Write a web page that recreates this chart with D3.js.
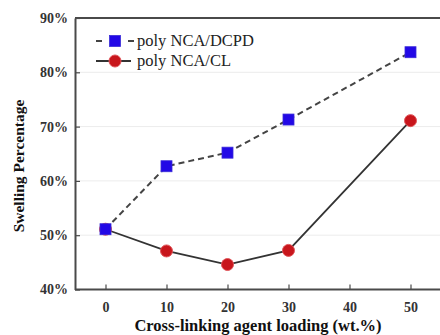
<!DOCTYPE html>
<html>
<head>
<meta charset="utf-8">
<script src="https://cdn.jsdelivr.net/npm/d3@7/dist/d3.min.js"></script>
<style>
  html, body { margin: 0; padding: 0; background: #fff; }
  svg { display: block; }
</style>
</head>
<body>
<svg id="chart" width="440" height="335"></svg>
<script>
// Cross-linking agent loading (wt.%)
const loadings = [0, 10, 20, 30, 50];
// Swelling percentage (%)
const dcpdValues = [51.1, 62.7, 65.2, 71.3, 83.7];
const clValues = [51.1, 47.1, 44.6, 47.2, 71.1];
const seriesNames = ["poly NCA/DCPD", "poly NCA/CL"];
const xTicks = [0, 10, 20, 30, 40, 50];
const yTicks = [40, 50, 60, 70, 80, 90];

const svg = d3.select("#chart");
const margin = { left: 75, top: 18, right: 441, bottom: 289.5 };

const x = d3.scaleLinear().domain([-5, 55]).range([margin.left, margin.right]);
const y = d3.scaleLinear().domain([40, 90]).range([margin.bottom, margin.top]);

const serif = "'Liberation Serif', 'Times New Roman', serif";
const axisColor = "#4a4a4a";

// light horizontal grid
svg.append("g")
  .selectAll("line")
  .data(yTicks.slice(1, -1))
  .join("line")
  .attr("x1", margin.left).attr("x2", 440)
  .attr("y1", d => y(d)).attr("y2", d => y(d))
  .attr("stroke", "#ececec").attr("stroke-width", 1);

// frame top edge
svg.append("line")
  .attr("x1", margin.left).attr("x2", 440)
  .attr("y1", margin.top).attr("y2", margin.top)
  .attr("stroke", axisColor).attr("stroke-width", 2);

// x axis with inward ticks
const xAxis = svg.append("g")
  .attr("transform", `translate(0,${margin.bottom})`)
  .call(d3.axisBottom(x).tickValues(xTicks).tickSizeInner(-5).tickSizeOuter(0).tickPadding(13));
xAxis.select(".domain").attr("stroke", axisColor).attr("stroke-width", 2)
  .attr("d", `M${margin.left},0H440`);
xAxis.selectAll(".tick line").attr("stroke", axisColor).attr("stroke-width", 1.2);
xAxis.selectAll(".tick text")
  .attr("font-family", serif).attr("font-weight", "bold").attr("font-size", 14)
  .attr("fill", "#333");

// y axis with inward ticks
const yAxis = svg.append("g")
  .attr("transform", `translate(${margin.left},0)`)
  .call(d3.axisLeft(y).tickValues(yTicks).tickFormat(d => d + "%")
    .tickSizeInner(-5).tickSizeOuter(0).tickPadding(7));
yAxis.select(".domain").attr("stroke", axisColor).attr("stroke-width", 2);
yAxis.selectAll(".tick line").attr("stroke", axisColor).attr("stroke-width", 1.2);
yAxis.selectAll(".tick text")
  .attr("font-family", serif).attr("font-weight", "bold").attr("font-size", 14)
  .attr("fill", "#333");

// axis titles
svg.append("text")
  .attr("x", 258).attr("y", 331)
  .attr("text-anchor", "middle")
  .attr("font-family", serif).attr("font-weight", "bold").attr("font-size", 16.5)
  .attr("fill", "#111")
  .text("Cross-linking agent loading (wt.%)");

svg.append("text")
  .attr("transform", "translate(24,166) rotate(-90)")
  .attr("text-anchor", "middle")
  .attr("font-family", serif).attr("font-weight", "bold").attr("font-size", 15.5)
  .attr("fill", "#111")
  .text("Swelling Percentage");

const line = d3.line().x(d => x(d[0])).y(d => y(d[1]));
const dcpd = loadings.map((l, i) => [l, dcpdValues[i]]);
const cl = loadings.map((l, i) => [l, clValues[i]]);

// series lines
svg.append("path").datum(dcpd).attr("d", line)
  .attr("fill", "none").attr("stroke", "#444").attr("stroke-width", 2)
  .attr("stroke-dasharray", "6,4");
svg.append("path").datum(cl).attr("d", line)
  .attr("fill", "none").attr("stroke", "#333").attr("stroke-width", 1.8);

// markers
const sq = 11;
function drawSquare(g, cx, cy) {
  g.append("rect")
    .attr("x", cx - sq / 2).attr("y", cy - sq / 2)
    .attr("width", sq).attr("height", sq)
    .attr("fill", "#2208e6").attr("stroke", "#3a2cd8").attr("stroke-width", 0.8);
}
function drawCircle(g, cx, cy) {
  g.append("circle")
    .attr("cx", cx).attr("cy", cy).attr("r", 6)
    .attr("fill", "#c8161c").attr("stroke", "#e0555a").attr("stroke-width", 1);
}
const marks = svg.append("g");
cl.forEach(d => drawCircle(marks, x(d[0]), y(d[1])));
dcpd.forEach(d => drawSquare(marks, x(d[0]), y(d[1])));

// legend
const legend = svg.append("g");
const legRows = [41, 61];
legend.append("line")
  .attr("x1", 96).attr("x2", 134).attr("y1", legRows[0]).attr("y2", legRows[0])
  .attr("stroke", "#444").attr("stroke-width", 2).attr("stroke-dasharray", "6,26");
legend.append("line")
  .attr("x1", 96).attr("x2", 131).attr("y1", legRows[1]).attr("y2", legRows[1])
  .attr("stroke", "#333").attr("stroke-width", 1.8);
drawSquare(legend, 115, legRows[0]);
drawCircle(legend, 115, legRows[1]);
legend.selectAll("text")
  .data(seriesNames)
  .join("text")
  .attr("x", 137).attr("y", (d, i) => legRows[i] + 5)
  .attr("font-family", serif).attr("font-size", 16.5)
  .attr("fill", "#222")
  .text(d => d);
</script>
</body>
</html>
